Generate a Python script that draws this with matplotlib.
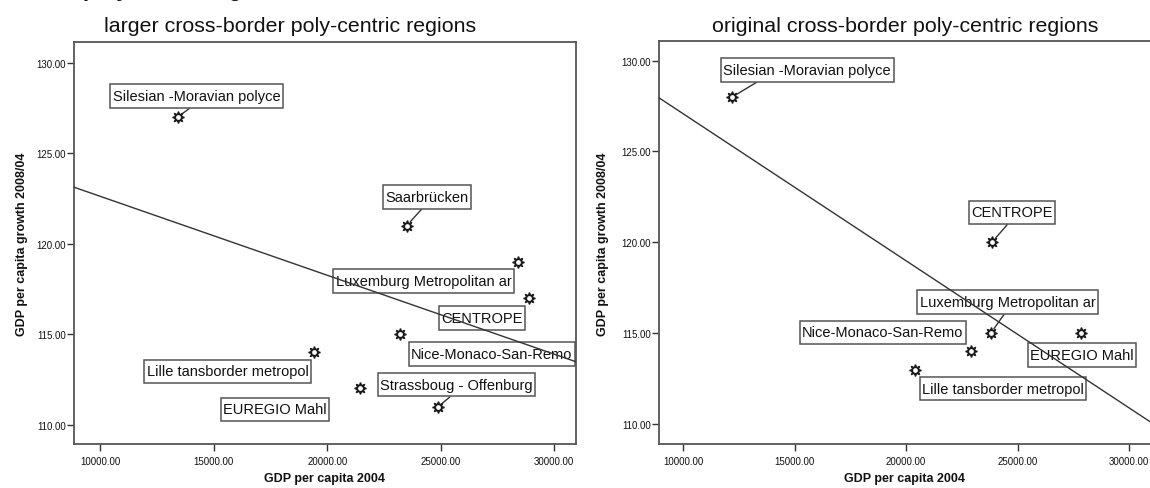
import numpy as np
import matplotlib
matplotlib.use("Agg")
import matplotlib.pyplot as plt
from matplotlib.path import Path
from matplotlib.ticker import FormatStrFormatter, MultipleLocator

plt.rcParams['font.family'] = ['Liberation Sans', 'DejaVu Sans']

# larger cross-border regions
left_names = ["Silesian -Moravian polyce", "Saarbrücken", "Luxemburg Metropolitan ar",
              "CENTROPE", "Nice-Monaco-San-Remo", "Lille tansborder metropol",
              "EUREGIO Mahl", "Strassboug - Offenburg"]
left_gdp = [13400, 23500, 28400, 28900, 23200, 19400, 21450, 24900]
left_growth = [127, 121, 119, 117, 115, 114, 112, 111]

# original cross-border regions
right_names = ["Silesian -Moravian polyce", "CENTROPE", "Luxemburg Metropolitan ar",
               "Nice-Monaco-San-Remo", "EUREGIO Mahl", "Lille tansborder metropol"]
right_gdp = [12200, 23850, 23800, 22900, 27850, 20400]
right_growth = [128, 120, 115, 114, 115, 113]

# label box placement (pixel offsets from the point); leader = where the line meets the box edge
left_offsets = [(19, 21), (20, 29), (-94, -19), (-47, -20), (92, -20), (-86, -19), (-85, -21), (18, 22)]
left_leader = [0.5, 0.5, None, None, None, None, None, 0.5]
right_offsets = [(75, 27), (20, 30), (17, 31), (-88, 19), (1, -22), (88, -19)]
right_leader = [0.25, 0.5, 0.5, None, None, None]

W, H = 1150, 489
fig = plt.figure(figsize=(W / 100, H / 100), dpi=100)


def label_box(x0, y0, width, height, mutation_size):
    # spss-like label frame: narrow on the sides, taller top/bottom
    px = 0.17 * mutation_size
    py = 0.33 * mutation_size
    x0, y0 = x0 - px, y0 - py
    x1, y1 = x0 + width + 2 * px, y0 + height + 2 * py
    return Path([(x0, y0), (x1, y0), (x1, y1), (x0, y1), (x0, y0)], closed=True)


def scatter_panel(rect, xlim, ylim, gdp, growth, names, offsets, leader):
    ax = fig.add_axes(rect)
    ax.set_xlim(*xlim)
    ax.set_ylim(*ylim)
    for s in ["top", "right", "bottom", "left"]:
        ax.spines[s].set_color("#555555")
        ax.spines[s].set_linewidth(1.3)
    ax.xaxis.set_major_locator(MultipleLocator(5000))
    ax.yaxis.set_major_locator(MultipleLocator(5))
    ax.xaxis.set_major_formatter(FormatStrFormatter("%.2f"))
    ax.yaxis.set_major_formatter(FormatStrFormatter("%.2f"))
    ax.tick_params(axis="both", direction="out", length=5, width=1, color="#333333",
                   labelsize=7, labelcolor="#111111")
    ax.tick_params(axis="x", pad=4)
    ax.tick_params(axis="y", pad=1)

    # fit line
    k, b = np.polyfit(gdp, growth, 1)
    xs = np.array(xlim)
    ax.plot(xs, k * xs + b, color="#333333", lw=1.0, zorder=5)

    ax.plot(gdp, growth, ls="none", marker=(8, 1, 0), ms=8.5, color="#1a1a1a", zorder=6)
    ax.plot(gdp, growth, ls="none", marker="o", ms=2.4, color="white", mec="white", zorder=7)

    for x, y, name, off, lead in zip(gdp, growth, names, offsets, leader):
        arrow = None
        if lead is not None:
            arrow = dict(arrowstyle="-", color="#333333", lw=1.0,
                         relpos=(lead, 0.0) if off[1] > 0 else (lead, 1.0),
                         shrinkA=0, shrinkB=4)
        ax.annotate(name, (x, y), xytext=off, textcoords="offset pixels",
                    ha="center", va="center", fontsize=10.5, color="#111111", zorder=4,
                    bbox=dict(boxstyle=label_box, fc="white", ec="#555555", lw=1.1),
                    arrowprops=arrow)
    return ax


scatter_panel([74 / W, 1 - 445 / H, (576 - 74) / W, (445 - 43) / H],
              (8836, 30970), (108.93, 131.16),
              left_gdp, left_growth, left_names, left_offsets, left_leader)
scatter_panel([659 / W, 1 - 445 / H, (1153 - 659) / W, (445 - 42) / H],
              (8910, 31080), (108.9, 131.08),
              right_gdp, right_growth, right_names, right_offsets, right_leader)

# titles and axis labels
fig.text(290 / W, 1 - 27 / H, "larger cross-border poly-centric regions",
         ha="center", va="center", fontsize=15.4, color="#111111")
fig.text(905 / W, 1 - 27 / H, "original cross-border poly-centric regions",
         ha="center", va="center", fontsize=15.4, color="#111111")
# page heading above, mostly outside the sheet
fig.text(83 / W, 1 + 3.5 / H, "polycentric regions", ha="left", va="baseline",
         fontsize=16, fontweight="bold", color="#111111")

for xc in (325, 905):
    fig.text(xc / W, 1 - 479.5 / H, "GDP per capita 2004", ha="center", va="center",
             fontsize=9, fontweight="bold", color="#111111")
for xc in (22, 603):
    fig.text(xc / W, 1 - 244 / H, "GDP per capita growth 2008/04", ha="center", va="center",
             rotation=90, fontsize=9, fontweight="bold", color="#111111")

fig.savefig("out.png", dpi=100)
